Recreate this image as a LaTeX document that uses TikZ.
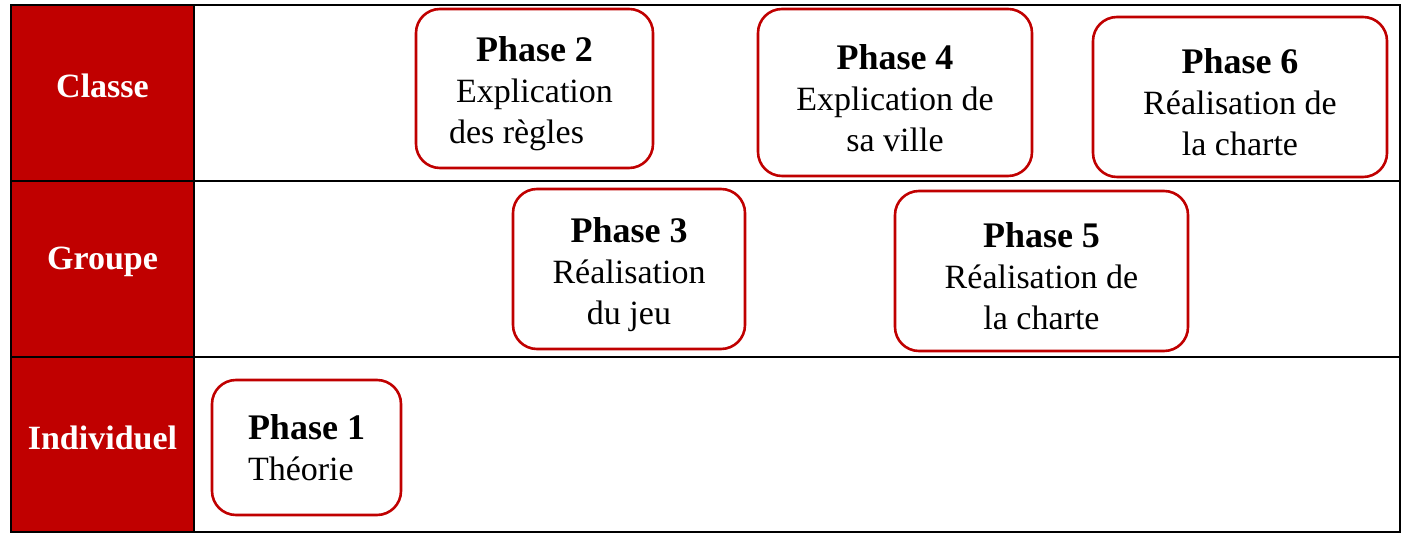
\documentclass[tikz,border=0pt]{standalone}
\usepackage{fontspec}
\setmainfont{Liberation Serif}
\usetikzlibrary{positioning}
\definecolor{darkred}{RGB}{192,0,0}
\newcommand{\phasetitle}[1]{\rule{0pt}{18pt}{\fontsize{18}{20.5}\selectfont\bfseries Phase #1}}

\begin{document}
\begin{tikzpicture}[x=0.5pt,y=-0.5pt,
	phasebox/.style={draw=darkred, line width=1.3pt, rounded corners=12pt, fill=white, align=center, inner sep=0pt, font=\fontsize{17}{20.5}\selectfont},
	rowlabel/.style={text=white, font=\fontsize{17}{20}\selectfont\bfseries}]
	\useasboundingbox (0,0) rectangle (1407,533);
	% table
	\fill[darkred] (11,5) rectangle (194,532);
	\draw[line width=1pt] (11,5) rectangle (1400,532);
	\draw[line width=1pt] (194,5) -- (194,532);
	\draw[line width=1pt] (11,181) -- (1400,181);
	\draw[line width=1pt] (11,357) -- (1400,357);
	% row labels
	\node[rowlabel] (classe) at (102.5,86) {Classe};
	\node[rowlabel] (groupe) at (102.5,262) {Groupe};
	\node[rowlabel] (indiv) at (102.5,438) {Individuel};
	% phases
	\node[phasebox, minimum width=118.5pt, minimum height=79.5pt] (phase2) at (534.5,88.5) {\phasetitle{2}\\Explication\\des règles\hspace*{18pt}};
	\node[phasebox, minimum width=137pt, minimum height=83.5pt] (phase4) at (895,92.5) {\phasetitle{4}\\Explication de\\sa ville};
	\node[phasebox, minimum width=147pt, minimum height=80pt] (phase6) at (1240,97) {\phasetitle{6}\\Réalisation de\\la charte};
	\node[phasebox, minimum width=116pt, minimum height=80pt] (phase3) at (629,269) {\phasetitle{3}\\Réalisation\\du jeu};
	\node[phasebox, minimum width=146.5pt, minimum height=80pt] (phase5) at (1041.5,271) {\phasetitle{5}\\Réalisation de\\la charte};
	\node[phasebox, align=left, minimum width=94.5pt, minimum height=67.5pt] (phase1) at (306.5,447.5) {{\fontsize{18}{20.5}\selectfont\bfseries Phase 1}\\Théorie};
\end{tikzpicture}
\end{document}
